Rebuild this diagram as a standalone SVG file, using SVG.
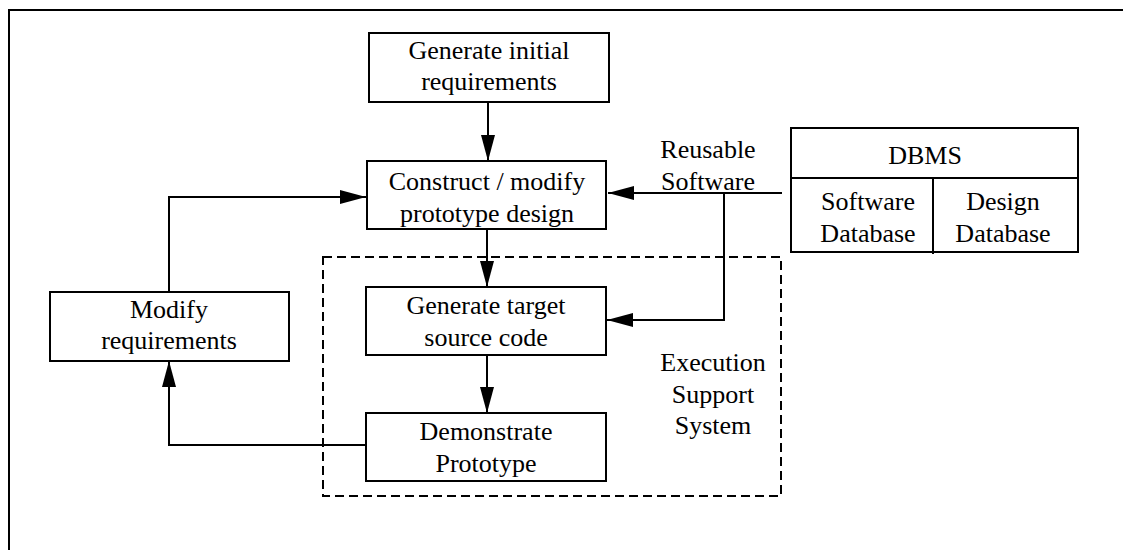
<svg xmlns="http://www.w3.org/2000/svg" width="1123" height="550" viewBox="0 0 1123 550">
<style>
.box{fill:#fff;stroke:#000;stroke-width:2}
.ln{fill:none;stroke:#000;stroke-width:2}
.t{font-size:26px;fill:#000;text-anchor:middle}
.dash{fill:none;stroke:#000;stroke-width:2;stroke-dasharray:9 5}
</style>
<defs>
<marker id="ah" markerUnits="userSpaceOnUse" markerWidth="26" markerHeight="14" refX="26" refY="7" orient="auto">
<path d="M0,0 L26,7 L0,14 z" fill="#000"/>
</marker>
</defs>
<rect width="1123" height="550" fill="#fff"/>
<g id="frame">
<path class="ln" d="M9,550 V10 H1123"/>
</g>
<g font-family="Liberation Serif, Times New Roman, DejaVu Serif, Noto Serif, serif">
<g id="ess">
<rect class="dash" x="323" y="257" width="458" height="239"/>
<text class="t" x="713" y="371">Execution</text>
<text class="t" x="713" y="403">Support</text>
<text class="t" x="713" y="434">System</text>
</g>
<g id="connectors">
<line class="ln" x1="488" y1="102" x2="488" y2="161" marker-end="url(#ah)"/>
<line class="ln" x1="487" y1="229" x2="487" y2="287" marker-end="url(#ah)"/>
<line class="ln" x1="487" y1="355" x2="487" y2="413" marker-end="url(#ah)"/>
<path class="ln" d="M169,292 V197 H366" marker-end="url(#ah)"/>
<path class="ln" d="M366,445 H169 V361" marker-end="url(#ah)"/>
<line class="ln" x1="782" y1="193" x2="608" y2="193" marker-end="url(#ah)"/>
<path class="ln" d="M724,193 V320 H607" marker-end="url(#ah)"/>
</g>
<g id="gen-initial">
<rect class="box" x="369" y="33" width="240" height="69"/>
<text class="t" x="489" y="59">Generate initial</text>
<text class="t" x="489" y="90">requirements</text>
</g>
<g id="construct">
<rect class="box" x="367" y="161" width="239" height="68"/>
<text class="t" x="487" y="190">Construct / modify</text>
<text class="t" x="487" y="222">prototype design</text>
</g>
<g id="gen-target">
<rect class="box" x="366" y="287" width="240" height="68"/>
<text class="t" x="486" y="314">Generate target</text>
<text class="t" x="486" y="346">source code</text>
</g>
<g id="demonstrate">
<rect class="box" x="366" y="413" width="240" height="68"/>
<text class="t" x="486" y="440">Demonstrate</text>
<text class="t" x="486" y="472">Prototype</text>
</g>
<g id="modify-req">
<rect class="box" x="50" y="292" width="239" height="69"/>
<text class="t" x="169" y="318">Modify</text>
<text class="t" x="169" y="349">requirements</text>
</g>
<g id="reusable-label">
<text class="t" x="708" y="158">Reusable</text>
<text class="t" x="708" y="190">Software</text>
</g>
<g id="dbms">
<rect class="box" x="791" y="128" width="287" height="124"/>
<line class="ln" x1="791" y1="178" x2="1078" y2="178"/>
<line class="ln" x1="933" y1="178" x2="933" y2="254"/>
<text class="t" x="925" y="164">DBMS</text>
<text class="t" x="868" y="210">Software</text>
<text class="t" x="868" y="242">Database</text>
<text class="t" x="1003" y="210">Design</text>
<text class="t" x="1003" y="242">Database</text>
</g>
</g>
</svg>
